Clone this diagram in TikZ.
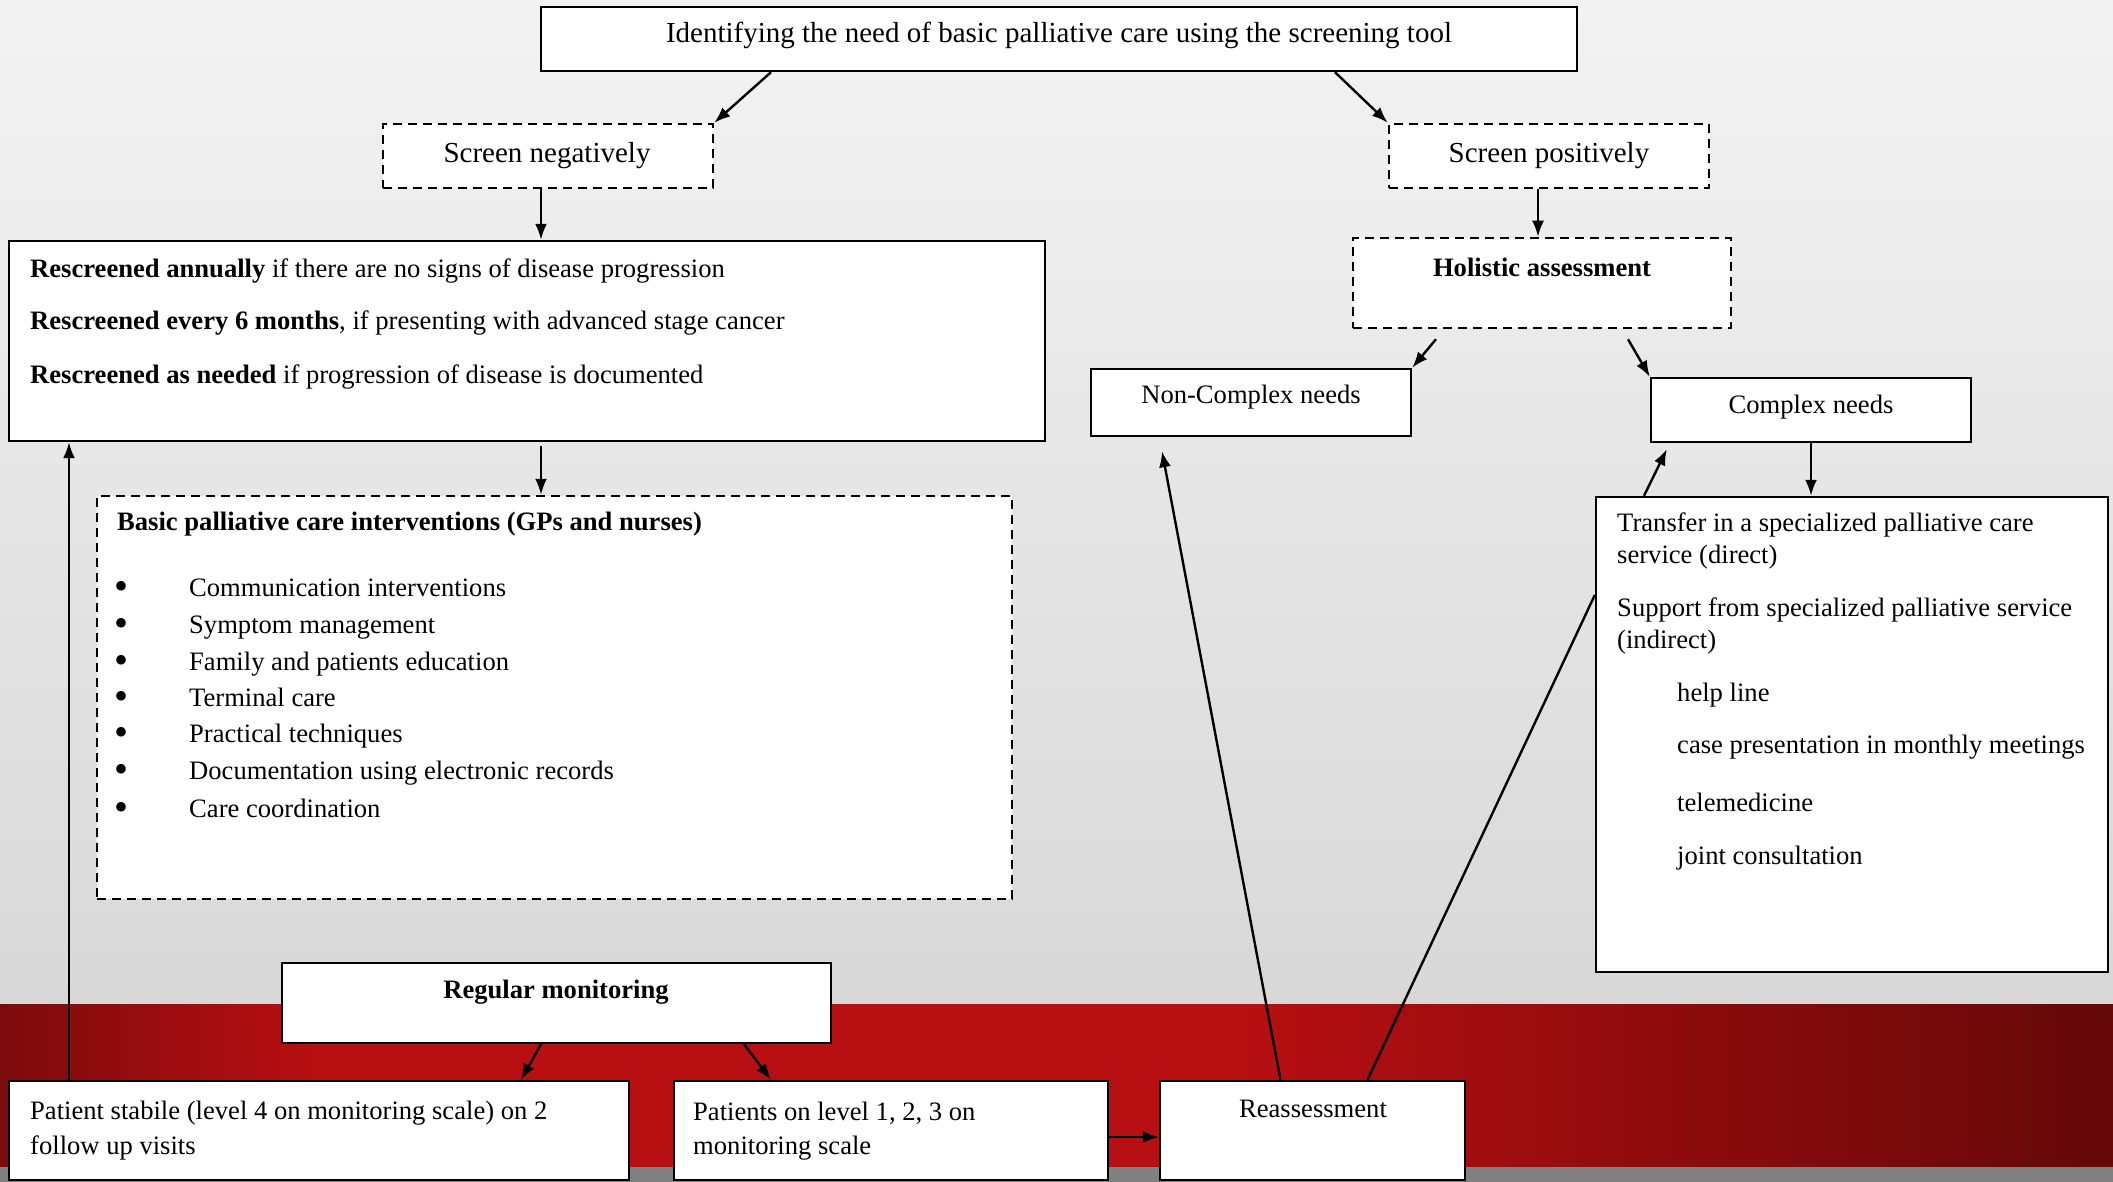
\documentclass[tikz,border=0pt]{standalone}
\usepackage{fontspec}
\setmainfont{Liberation Serif}
\usetikzlibrary{arrows.meta,calc}
\definecolor{bgtop}{RGB}{243,243,243}
\definecolor{bgbot}{RGB}{216,216,216}
\definecolor{reddark}{RGB}{124,11,13}
\definecolor{redmid}{RGB}{184,15,18}
\definecolor{reddarkr}{RGB}{100,8,8}
\definecolor{bandgray}{RGB}{128,128,128}
\newcommand\bodyfs{\fontsize{26.6}{32}\selectfont}
\newcommand\bigfs{\fontsize{29}{34}\selectfont}
\tikzset{
  box/.style={draw=black, line width=2.4pt, fill=white, rectangle, inner sep=0pt},
  dbox/.style={box, dash pattern=on 9pt off 6pt, line width=2.5pt},
  txt/.style={inner sep=0pt, font=\bodyfs, anchor=west},
  btxt/.style={inner sep=0pt, font=\bodyfs, anchor=base west},
  ctxt/.style={inner sep=0pt, font=\bodyfs},
  arr/.style={line width=2.4pt, -{Latex[length=16pt,width=12pt]}},
  ln/.style={line width=2.4pt}
}
\begin{document}
\begin{tikzpicture}[x=1pt,y=-1pt]
\useasboundingbox (0,0) rectangle (2113,1182);
% background
\shade[top color=bgtop, bottom color=bgbot] (0,0) rectangle (2113,1004);
\shade[left color=reddark, right color=redmid] (0,1004) rectangle (320,1167);
\fill[redmid] (319,1004) rectangle (1230,1167);
\shade[left color=redmid, right color=reddarkr] (1229,1004) rectangle (2113,1167);
\fill[bandgray] (0,1167) rectangle (2113,1182);

% boxes
\node[box, minimum width=1036, minimum height=64] (top) at (1059,39) {};
\node[inner sep=0pt, font=\bigfs] (toptxt) at (1059,35) {Identifying the need of basic palliative care using the screening tool};

\node[dbox, minimum width=330, minimum height=64] (sneg) at (548,156) {};
\node[inner sep=0pt, font=\bigfs] (snegtxt) at (547,156) {Screen negatively};

\node[dbox, minimum width=320, minimum height=64] (spos) at (1549,156) {};
\node[inner sep=0pt, font=\bigfs] (spostxt) at (1549,156) {Screen positively};

\node[dbox, minimum width=378, minimum height=90] (hol) at (1542,283) {};
\node[ctxt] (holtxt) at (1542,267) {\bfseries Holistic assessment};

\node[box, minimum width=320, minimum height=67] (noncx) at (1251,402.5) {};
\node[ctxt] (noncxtxt) at (1251,397) {Non-Complex needs};

\node[box, minimum width=320, minimum height=64] (cx) at (1811,410) {};
\node[ctxt] (cxtxt) at (1811,407) {Complex needs};

\node[box, minimum width=1036, minimum height=200] (resc) at (527,341) {};
\node[txt] (r1) at (30,271) {\textbf{Rescreened annually} if there are no signs of disease progression};
\node[txt] (r2) at (30,323) {\textbf{Rescreened every 6 months}, if presenting with advanced stage cancer};
\node[txt] (r3) at (30,377) {\textbf{Rescreened as needed} if progression of disease is documented};

\node[dbox, minimum width=915, minimum height=403] (basic) at (554.5,697.5) {};
\node[txt] (btitle) at (117,524) {\bfseries Basic palliative care interventions (GPs and nurses)};
\foreach \y/\t [count=\i] in {588/Communication interventions, 625/Symptom management, 662/Family and patients education, 698/Terminal care, 734/Practical techniques, 771/Documentation using electronic records, 809/Care coordination}{
  \node[btxt, font=\fontsize{40}{40}\selectfont] (bul\i) at (114,\y+11) {\textbullet};
  \node[btxt] (item\i) at (189,\y+8) {\t};
}

\node[box, minimum width=512, minimum height=475] (trans) at (1852,734.5) {};
\node[txt] (tr1) at (1617,525) {Transfer in a specialized palliative care};
\node[txt] (tr2) at (1617,557) {service (direct)};
\node[txt] (tr3) at (1617,610) {Support from specialized palliative service};
\node[txt] (tr4) at (1617,642) {(indirect)};
\node[txt] (tr5) at (1677,695) {help line};
\node[txt] (tr6) at (1677,747) {case presentation in monthly meetings};
\node[txt] (tr7) at (1677,802) {telemedicine};
\node[txt] (tr8) at (1677,858) {joint consultation};

\node[box, minimum width=549, minimum height=80] (regmon) at (556.5,1003) {};
\node[ctxt] (regmontxt) at (556,992) {\bfseries Regular monitoring};

\node[box, minimum width=620, minimum height=99] (stab) at (319,1130.5) {};
\node[txt] (st1) at (30,1113) {Patient stabile (level 4 on monitoring scale) on 2};
\node[txt] (st2) at (30,1148) {follow up visits};

\node[box, minimum width=434, minimum height=99] (lvl) at (891,1130.5) {};
\node[txt] (lv1) at (693,1113) {Patients on level 1, 2, 3 on};
\node[txt] (lv2) at (693,1148) {monitoring scale};

\node[box, minimum width=305, minimum height=99] (reas) at (1312.5,1130.5) {};
\node[ctxt] (reastxt) at (1313,1109) {Reassessment};

% connectors
\draw[arr] ([xshift=-288pt]top.south) -- (sneg.north east);
\draw[arr] ([xshift=276pt]top.south) -- (spos.north west);
\draw[arr] ([xshift=-7pt]sneg.south) -- ([xshift=-7pt]sneg.south |- resc.north);
\draw[arr] ([xshift=-11pt]spos.south) -- ([xshift=-11pt]spos.south |- hol.north);
\draw[arr] ([xshift=-106pt,yshift=-10pt]hol.south) -- (noncx.north east);
\draw[arr] ([xshift=86pt,yshift=-10pt]hol.south) -- (cx.north west);
\draw[arr] ([xshift=14pt,yshift=-4pt]resc.south) -- ([xshift=14pt]resc.south |- basic.north);
\draw[arr] (cx.south) -- (cx.south |- trans.north);
\draw[arr] ([xshift=-208pt]trans.north) -- ([xshift=17pt,yshift=-6pt]cx.south west);
\draw[arr] ([xshift=-32pt]reas.north) -- ([xshift=-89pt,yshift=-14pt]noncx.south);
\draw[ln] ([xshift=55pt]reas.north) -- ([yshift=139.5pt]trans.west);
\draw[arr] ([xshift=-15.5pt]regmon.south) -- ([xshift=202pt]stab.north);
\draw[arr] ([xshift=187.5pt]regmon.south) -- ([xshift=-120pt]lvl.north);
\draw[arr] ([yshift=-6.5pt]lvl.east) -- ([yshift=-6.5pt]reas.west);
\draw[arr] ([xshift=-250pt]stab.north) -- ([xshift=-250pt]stab.north |- resc.south);
\end{tikzpicture}
\end{document}
